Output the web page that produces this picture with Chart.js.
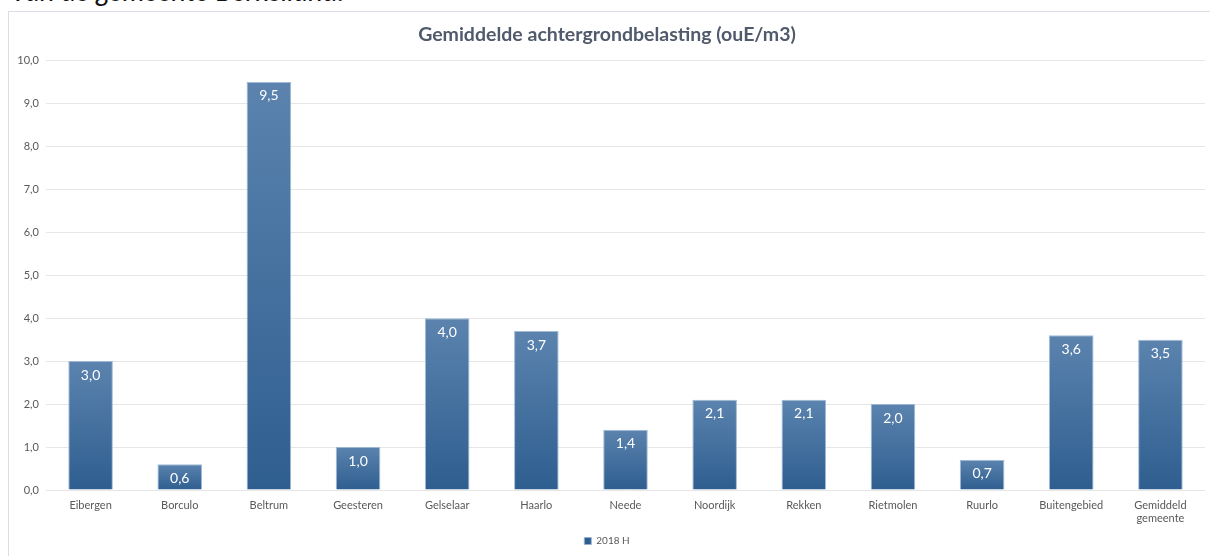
<!DOCTYPE html>
<html>
<head>
<meta charset="utf-8">
<script src="https://cdn.jsdelivr.net/npm/chart.js@4/dist/chart.umd.min.js"></script>
<style>
  html, body { margin: 0; padding: 0; background: #fff; overflow: hidden; }
  body { width: 1210px; height: 556px; position: relative; font-family: Lato, "Open Sans", sans-serif; }
  .caption {
    position: absolute; left: 10px; top: -24px; line-height: 1;
    font-style: italic; font-size: 28px; color: #111; white-space: nowrap;
  }
  .frame {
    position: absolute; left: 8px; top: 11px; width: 1210px; height: 560px;
    border: 1px solid #d9dee6; box-sizing: border-box;
  }
  .box { position: absolute; left: 9px; top: 12px; width: 1201px; height: 544px; }
</style>
</head>
<body>
<div class="caption">Van de gemeente Berkelland.</div>
<div class="frame"></div>
<div class="box"><canvas id="c"></canvas></div>
<script>
// data
const categories = [
  "Eibergen", "Borculo", "Beltrum", "Geesteren", "Gelselaar", "Haarlo", "Neede",
  "Noordijk", "Rekken", "Rietmolen", "Ruurlo", "Buitengebied", ["Gemiddeld", "gemeente"]
];
const values2018H = [3.0, 0.6, 9.5, 1.0, 4.0, 3.7, 1.4, 2.1, 2.1, 2.0, 0.7, 3.6, 3.5];
const seriesName = "2018 H";
const chartTitle = "Gemiddelde achtergrondbelasting (ouE/m3)";

const fmt = (v) => v.toFixed(1).replace(".", ",");
const FONT = "Lato, 'Open Sans', sans-serif";

// vertical gradient per bar, lighter at the top
function barFill(ctx) {
  const chart = ctx.chart;
  if (!chart.chartArea || ctx.raw == null) return "#3e6a98";
  const y = chart.scales.y;
  const top = y.getPixelForValue(ctx.raw);
  const bottom = y.getPixelForValue(0);
  if (!isFinite(top) || bottom - top < 1) return "#3e6a98";
  const g = chart.ctx.createLinearGradient(0, top, 0, bottom);
  g.addColorStop(0, "#5b83ae");
  g.addColorStop(1, "#2e5e8f");
  return g;
}

const valueLabels = {
  id: "valueLabels",
  afterDatasetsDraw(chart) {
    const ctx = chart.ctx;
    const meta = chart.getDatasetMeta(0);
    ctx.save();
    ctx.fillStyle = "#ffffff";
    ctx.font = "14px " + FONT;
    ctx.textAlign = "center";
    ctx.textBaseline = "middle";
    meta.data.forEach((bar, i) => {
      ctx.fillText(fmt(values2018H[i]), bar.x, bar.y + 14);
    });
    ctx.restore();
  },
};

new Chart(document.getElementById("c"), {
  type: "bar",
  data: {
    labels: categories,
    datasets: [
      {
        label: seriesName,
        data: values2018H,
        backgroundColor: barFill,
        borderColor: "rgba(150,178,210,0.9)",
        borderWidth: 1,
        categoryPercentage: 1,
        barPercentage: 0.5,
      },
    ],
  },
  options: {
    responsive: true,
    maintainAspectRatio: false,
    animation: false,
    layout: { padding: { left: 0, right: 5, top: 0, bottom: 0 } },
    plugins: {
      title: {
        display: true,
        text: chartTitle,
        color: "#505a6b",
        font: { family: FONT, size: 19.5, weight: "bold" },
        padding: { top: 11, bottom: 14 },
      },
      legend: {
        display: true,
        position: "bottom",
        labels: {
          boxWidth: 7,
          boxHeight: 7,
          color: "#595959",
          padding: 10,
          font: { family: FONT, size: 10 },
        },
      },
      tooltip: { enabled: false },
    },
    scales: {
      x: {
        afterFit(scale) { scale.height = 36; },
        grid: { display: false, drawTicks: false },
        border: { display: false },
        ticks: {
          color: "#595959",
          padding: 9,
          maxRotation: 0,
          font: { family: FONT, size: 11 },
        },
      },
      y: {
        min: 0,
        max: 10,
        afterFit(scale) { scale.width = 37; },
        grid: { color: "#e6e6e6", drawTicks: false },
        border: { display: false },
        ticks: {
          stepSize: 1,
          padding: 7,
          color: "#595959",
          font: { family: FONT, size: 11 },
          callback: (v) => fmt(v),
        },
      },
    },
  },
  plugins: [valueLabels],
});
</script>
</body>
</html>
